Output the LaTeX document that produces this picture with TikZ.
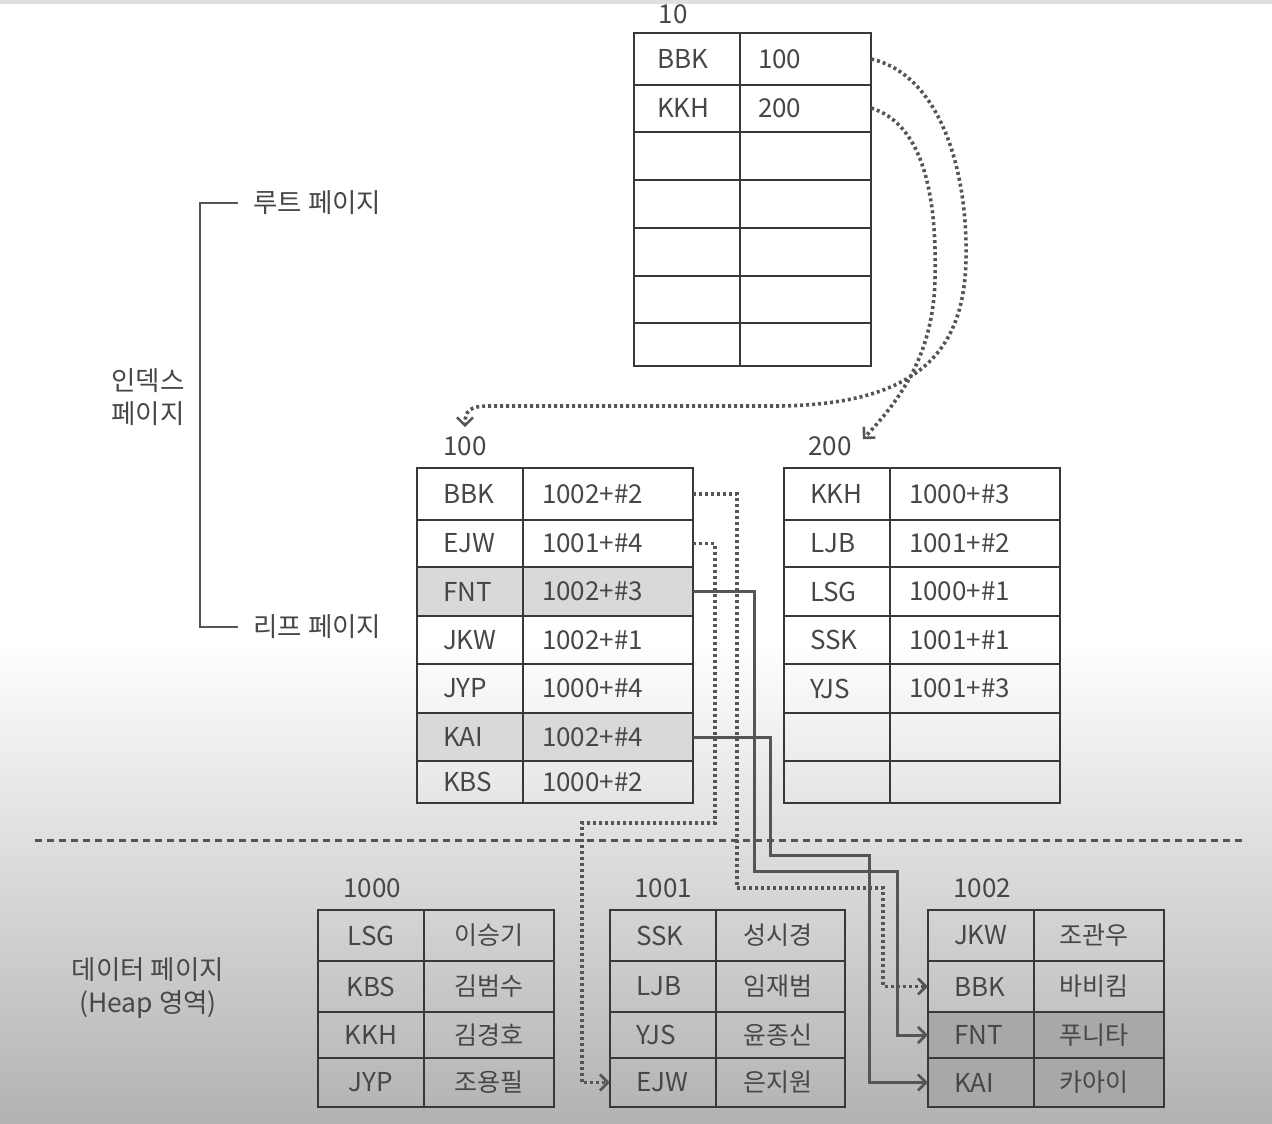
\documentclass[tikz,border=0pt]{standalone}
\usepackage{fontspec}
\setmainfont{Noto Sans CJK KR}
\usetikzlibrary{arrows.meta,positioning,calc}
\definecolor{linecol}{HTML}{383838}
\definecolor{txtcol}{HTML}{474747}
\definecolor{wirecol}{HTML}{555555}
\definecolor{bggray}{HTML}{B2B2B2}
\definecolor{rowlight}{HTML}{D9D9D9}
\definecolor{rowdark}{HTML}{A8A8A8}

\tikzset{
  page/.style={draw=linecol, line width=2.8pt},
  grid/.style={draw=linecol, line width=2pt},
  cell/.style={minimum height=46pt, inner ysep=0pt, text=txtcol, font=\fontsize{26}{30}\selectfont, align=left},
  keycell/.style={cell, inner xsep=26pt, text width=54pt},
  rootval/.style={cell, inner xsep=18pt, text width=95pt},
  leafval/.style={cell, inner xsep=19pt, text width=132pt},
  namecell/.style={cell, inner xsep=0pt, text width=130pt, align=center, font=\fontsize{25}{29}\selectfont},
  pageno/.style={text=txtcol, font=\fontsize{26}{30}\selectfont, inner sep=1pt},
  side/.style={text=txtcol, font=\fontsize{26.5}{33}\selectfont, align=center},
  ptr/.style={draw=wirecol, line width=3pt, -{Straight Barb[length=8pt,width=16pt,line width=2.6pt]}},
  dotptr/.style={ptr, line width=3.6pt, dash pattern=on 3pt off 3pt},
}

\begin{document}
\begin{tikzpicture}[x=1pt,y=-1pt]
    \useasboundingbox (0,0) rectangle (1272,1124);
    % Background
    \fill[white] (0,0) rectangle (1272,1124);
    \shade[top color=white, bottom color=bggray] (0,640) rectangle (1272,1124);
    \fill[black!12] (0,0) rectangle (1272,4);

    % Shaded rows
    \fill[rowlight] (417,567) rectangle (693,616);
    \fill[rowlight] (417,713) rectangle (693,761);
    \fill[rowdark] (928,1012) rectangle (1164,1107);

    % Root page 10
    \node[pageno] (p10) at (673,14) {10};
    \draw[page] (634,33) rectangle (871,366);
    \foreach \y in {85,132,180,228,276,323} {
        \draw[grid] (634,\y) -- (871,\y);
    }
    \draw[grid] (740,33) -- (740,366);
    \node[keycell, inner xsep=23pt, text width=60pt] (r-bbk) at (687,59) {BBK};
    \node[rootval] (r-100) at (805.5,59) {100};
    \node[keycell, inner xsep=23pt, text width=60pt] (r-kkh) at (687,108) {KKH};
    \node[rootval] (r-200) at (805.5,108) {200};

    % Leaf page 100
    \node[pageno] (p100) at (465,446) {100};
    \draw[page] (417,468) rectangle (693,803);
    \foreach \y in {520,567,616,664,713,761} {
        \draw[grid] (417,\y) -- (693,\y);
    }
    \draw[grid] (523,468) -- (523,803);
    \foreach \k/\v/\y [count=\i] in {BBK/1002+\#2/494, EJW/1001+\#4/543.5, FNT/1002+\#3/591.5,
        JKW/1002+\#1/640, JYP/1000+\#4/688.5, KAI/1002+\#4/737, KBS/1000+\#2/782} {
        \node[keycell] (la-k\i) at (470,\y) {\k};
        \node[leafval] (la-v\i) at (608,\y) {\v};
    }

    % Leaf page 200
    \node[pageno] (p200) at (830,446) {200};
    \draw[page] (784,468) rectangle (1060,803);
    \foreach \y in {520,567,616,664,713,761} {
        \draw[grid] (784,\y) -- (1060,\y);
    }
    \draw[grid] (890,468) -- (890,803);
    \foreach \k/\v/\y [count=\i] in {KKH/1000+\#3/494, LJB/1001+\#2/543.5, LSG/1000+\#1/591.5,
        SSK/1001+\#1/640, YJS/1001+\#3/688.5} {
        \node[keycell] (lb-k\i) at (837,\y) {\k};
        \node[leafval] (lb-v\i) at (975,\y) {\v};
    }

    % Side labels
    \node[side, anchor=west] (lroot) at (250,203) {루트 페이지};
    \node[side, anchor=west] (lleaf) at (250,627) {리프 페이지};
    \node[side] (lindex) at (148,397) {인덱스\\페이지};
    \node[side] (lheap) at (148,988) {데이터 페이지\\(Heap 영역)};
    \draw[draw=wirecol, line width=2.6pt] ([xshift=-12pt]lroot.west) -| (200,412) |- ([xshift=-12pt]lleaf.west);

    % Index / data boundary
    \draw[draw=wirecol, line width=3pt, dash pattern=on 7pt off 5pt] (35,840) -- (1245,840);

    % Data pages
    \node[pageno] (p1000) at (372,888) {1000};
    \node[pageno] (p1001) at (663,888) {1001};
    \node[pageno] (p1002) at (982,888) {1002};
    \foreach \l/\m/\r/\n in {318/424/554/a, 610/716/845/b, 928/1034/1164/c} {
        \draw[page] (\l,910) rectangle (\r,1107);
        \foreach \y in {961,1012,1058} {
            \draw[grid] (\l,\y) -- (\r,\y);
        }
        \draw[grid] (\m,910) -- (\m,1107);
    }
    \foreach \k/\v/\y [count=\i] in {LSG/이승기/935.5, KBS/김범수/986.5, KKH/김경호/1035, JYP/조용필/1082.5} {
        \node[keycell, align=center] (da-k\i) at (371,\y) {\k};
        \node[namecell] (da-v\i) at (489,\y) {\v};
    }
    \foreach \k/\v/\y [count=\i] in {SSK/성시경/935.5, LJB/임재범/986.5, YJS/윤종신/1035, EJW/은지원/1082.5} {
        \node[keycell] (db-k\i) at (663,\y) {\k};
        \node[namecell] (db-v\i) at (778,\y) {\v};
    }
    \foreach \k/\v/\y [count=\i] in {JKW/조관우/935.5, BBK/바비킴/986.5, FNT/푸니타/1035, KAI/카아이/1082.5} {
        \node[keycell] (dc-k\i) at (981,\y) {\k};
        \node[namecell] (dc-v\i) at (1094,\y) {\v};
    }

    % Root to leaf pointers
    \draw[dotptr] (r-100.east) .. controls (940,75) and (968,170) .. (966,260)
        .. controls (964,350) and (920,404) .. (780,406) -- (490,406)
        .. controls (470,406) and (465,410) .. ([yshift=8pt]p100.north);
    \draw[dotptr] (r-200.east) .. controls (925,125) and (937,200) .. (935,280)
        .. controls (933,350) and (905,395) .. ([xshift=10pt,yshift=-4pt]p200.north east);

    % Leaf to data pointers
    \draw[dotptr] (la-v1.east) -| (737,888) -| ([xshift=-45pt]dc-k2.west) -- (dc-k2.west);
    \draw[dotptr] (la-v2.east) -| (715,823) -| ([xshift=-28pt]db-k4.west) -- (db-k4.west);
    \draw[ptr] (la-v3.east) -| (754,871) -| ([xshift=-30pt]dc-k3.west) -- (dc-k3.west);
    \draw[ptr] (la-v6.east) -| (770,855) -| ([xshift=-58pt]dc-k4.west) -- (dc-k4.west);

\end{tikzpicture}
\end{document}
